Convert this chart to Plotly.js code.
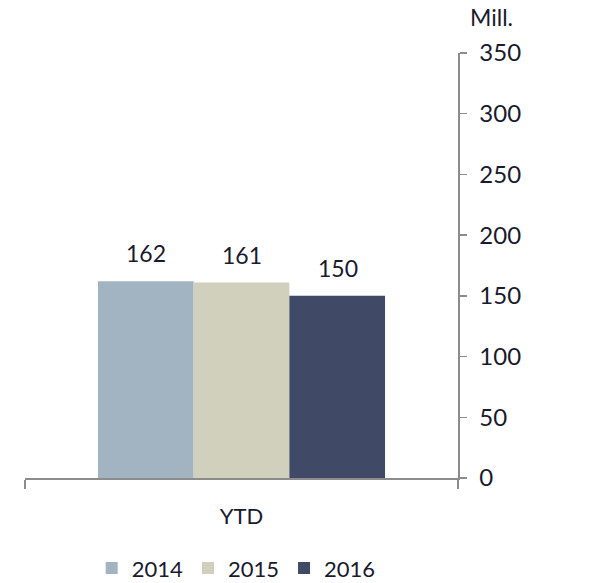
<!DOCTYPE html>
<html>
<head>
<meta charset="utf-8">
<script src="https://cdn.plot.ly/plotly-3.0.1.min.js"></script>
<style>
  html, body { margin: 0; padding: 0; background: white; }
  #chart { width: 598px; height: 583px; }
</style>
</head>
<body>
<div id="chart"></div>
<script>
// values
const categories = ['YTD']
const years = ['2014', '2015', '2016']
const values = [162, 161, 150]
const colors = ['#a2b3c1', '#d0d0bc', '#404a66']
const yTicks = [0, 50, 100, 150, 200, 250, 300, 350]

const font = 'Lato, "Open Sans", sans-serif'
const textColor = '#1a1a2e'
const barPx = 96 // width of one bar on screen, used to shift the value labels

let traces = years.map((year, i) => ({
  type: 'bar',
  name: year,
  x: categories,
  y: [values[i]],
  marker: { color: colors[i], line: { width: 0 } },
  hoverinfo: 'none'
}))

// value labels sitting a bit above each bar
let labels = years.map((year, i) => ({
  xref: 'x', yref: 'y',
  x: categories[0],
  y: values[i],
  xshift: (i - 1) * barPx,
  yshift: 12,
  yanchor: 'bottom',
  text: String(values[i]),
  showarrow: false,
  font: { family: font, size: 23, color: textColor }
}))

let layout = {
  width: 598,
  height: 583,
  margin: { l: 25, r: 140, t: 53, b: 105, autoexpand: false },
  paper_bgcolor: 'white',
  plot_bgcolor: 'white',
  font: { family: font, size: 23, color: textColor },
  barmode: 'group',
  bargap: 0.337,
  bargroupgap: 0,
  showlegend: true,
  legend: {
    orientation: 'h',
    xref: 'container', yref: 'paper',
    x: 0.395, xanchor: 'center',
    y: -0.163, yanchor: 'top',
    font: { family: font, size: 22, color: textColor },
    itemwidth: 30,
    tracegroupgap: 0
  },
  xaxis: {
    type: 'category',
    range: [-0.5, 0.5],
    showline: true,
    linecolor: '#8c8c8c',
    linewidth: 1.5,
    ticks: 'outside',
    tickson: 'boundaries',
    ticklen: 9,
    tickcolor: '#8c8c8c',
    tickwidth: 1.5,
    showgrid: false,
    zeroline: false,
    ticklabelstandoff: 18,
    tickfont: { family: font, size: 22, color: textColor }
  },
  yaxis: {
    side: 'right',
    range: [0, 350],
    tickvals: yTicks,
    showline: true,
    linecolor: '#8c8c8c',
    linewidth: 1.5,
    ticks: 'outside',
    ticklen: 7,
    tickcolor: '#8c8c8c',
    tickwidth: 1.5,
    showgrid: false,
    zeroline: false,
    ticklabelstandoff: 8,
    tickfont: { family: font, size: 24, color: textColor }
  },
  annotations: labels.concat([{
    text: 'Mill.',
    xref: 'paper', yref: 'paper',
    x: 1, y: 1,
    xshift: 10, yshift: 20,
    xanchor: 'left', yanchor: 'bottom',
    showarrow: false,
    font: { family: font, size: 23, color: textColor }
  }])
}

Plotly.newPlot('chart', traces, layout, { displayModeBar: false, staticPlot: true })
</script>
</body>
</html>
